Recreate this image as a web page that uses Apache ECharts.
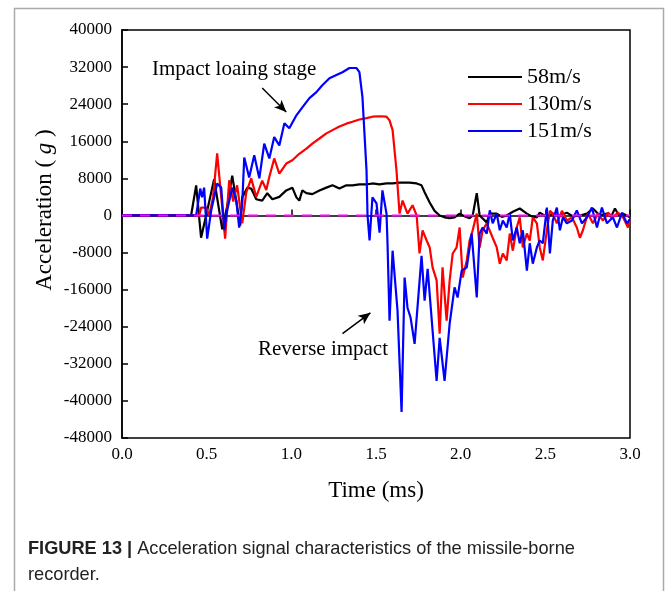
<!DOCTYPE html>
<html>
<head>
<meta charset="utf-8">
<script src="https://cdn.jsdelivr.net/npm/echarts@6/dist/echarts.min.js"></script>
<style>
  html, body { margin: 0; padding: 0; background: #fff; }
  #main { width: 665px; height: 591px; }
</style>
</head>
<body>
<div id="main"></div>
<script>
// time (ms) / acceleration (g)
var t58 = [0, 0.408, 0.438, 0.467, 0.503, 0.544, 0.592, 0.621, 0.651, 0.698, 0.710, 0.740, 0.763, 0.793, 0.828, 0.858, 0.888, 0.929, 0.970, 1.006, 1.030, 1.047, 1.065, 1.089, 1.124, 1.166, 1.207, 1.243, 1.284, 1.325, 1.361, 1.402, 1.444, 1.479, 1.521, 1.562, 1.598, 1.639, 1.698, 1.740, 1.769, 1.787, 1.817, 1.846, 1.876, 1.905, 1.935, 1.964, 1.994, 2.024, 2.053, 2.071, 2.095, 2.112, 2.154, 2.172, 2.213, 2.243, 2.272, 2.308, 2.349, 2.391, 2.420, 2.450, 2.467, 2.509, 2.544, 2.586, 2.627, 2.663, 2.704, 2.746, 2.781, 2.822, 2.864, 2.888, 2.911, 2.935, 2.959, 3.0];
var a58 = [0, 0, 6500, -4800, 1000, 7800, -3000, 2000, 8600, -2200, 3900, 6000, 5800, 3500, 3200, 4800, 3500, 4000, 5400, 6000, 3900, 3200, 5400, 4800, 4600, 5400, 6000, 6500, 5800, 6500, 6500, 6700, 6700, 6900, 6700, 6900, 6900, 7100, 7100, 6900, 6500, 5000, 2800, 1000, 0, -400, -600, -400, 400, -200, -600, 0, 4800, 0, -1500, 400, 400, -300, 0, 800, 1500, 400, -200, -400, 600, -300, 400, 0, 600, -200, 0, 400, 1500, 0, 400, -300, 1500, 0, 400, -400];

var t130 = [0, 0.456, 0.467, 0.497, 0.515, 0.538, 0.562, 0.586, 0.609, 0.633, 0.657, 0.680, 0.710, 0.734, 0.763, 0.793, 0.828, 0.852, 0.870, 0.899, 0.929, 0.970, 1.006, 1.047, 1.089, 1.124, 1.166, 1.207, 1.243, 1.284, 1.325, 1.361, 1.402, 1.444, 1.479, 1.521, 1.562, 1.580, 1.598, 1.621, 1.639, 1.657, 1.686, 1.716, 1.740, 1.757, 1.775, 1.799, 1.817, 1.834, 1.858, 1.876, 1.893, 1.917, 1.935, 1.953, 1.976, 1.994, 2.012, 2.036, 2.053, 2.071, 2.095, 2.112, 2.130, 2.154, 2.189, 2.213, 2.231, 2.249, 2.272, 2.290, 2.308, 2.331, 2.349, 2.367, 2.391, 2.408, 2.426, 2.450, 2.467, 2.485, 2.509, 2.527, 2.544, 2.568, 2.598, 2.627, 2.657, 2.686, 2.704, 2.722, 2.751, 2.781, 2.811, 2.840, 2.870, 2.899, 2.929, 2.959, 2.988, 3.0];
var a130 = [0, 0, 1700, 1700, 0, 4000, 13400, 4000, -5000, 7600, 3000, 6500, -1700, 5000, 8000, 4000, 7500, 5500, 8300, 12300, 9000, 11200, 11900, 13300, 14400, 15500, 16600, 17700, 18400, 19200, 19800, 20200, 20700, 21000, 21300, 21400, 21300, 20500, 18400, 9700, 400, 3200, 400, 2200, 0, -8200, -3200, -5400, -6900, -11200, -14000, -25500, -11200, -22700, -14000, -8200, -6900, -2600, -13400, -9700, -5400, -3200, 400, -6900, -3200, -1700, -4800, -6900, -10400, -8200, -9700, -3900, -7600, -2600, -400, -6900, -3900, -5400, -400, -1700, -6900, -9700, -3200, 1000, 400, -1700, 1000, -1100, -400, -2600, -4800, -3200, 400, -1700, 400, -1100, 600, -400, 600, -400, -2600, -800];

var t151 = [0, 0.408, 0.438, 0.462, 0.473, 0.485, 0.503, 0.527, 0.562, 0.586, 0.604, 0.621, 0.651, 0.675, 0.692, 0.710, 0.722, 0.751, 0.781, 0.811, 0.840, 0.870, 0.899, 0.929, 0.959, 0.988, 1.030, 1.065, 1.107, 1.148, 1.183, 1.225, 1.266, 1.302, 1.343, 1.385, 1.402, 1.420, 1.444, 1.450, 1.462, 1.479, 1.503, 1.521, 1.538, 1.562, 1.568, 1.580, 1.598, 1.627, 1.651, 1.669, 1.686, 1.704, 1.728, 1.769, 1.787, 1.805, 1.858, 1.876, 1.905, 1.935, 1.964, 1.982, 2.006, 2.036, 2.065, 2.095, 2.112, 2.130, 2.154, 2.172, 2.189, 2.213, 2.231, 2.249, 2.272, 2.290, 2.308, 2.331, 2.349, 2.367, 2.391, 2.408, 2.426, 2.450, 2.467, 2.485, 2.509, 2.527, 2.544, 2.568, 2.586, 2.604, 2.627, 2.657, 2.686, 2.716, 2.746, 2.775, 2.805, 2.834, 2.864, 2.899, 2.923, 2.953, 2.982, 3.0];
var a151 = [0, 0, 0, 5800, 3900, 6000, -5000, 1100, 6900, 6000, -3200, 1100, 6000, 3200, -2600, 2600, 12500, 8200, 13000, 8000, 15500, 12300, 16900, 15100, 19900, 18800, 21600, 23300, 25300, 26600, 28100, 29600, 30300, 30900, 31800, 31800, 30900, 25500, 9700, 0, -5400, 3900, 2600, -3700, 5400, 400, -6000, -22700, -7600, -20500, -42400, -13400, -19900, -22000, -27700, -8700, -18400, -11500, -35700, -26400, -35700, -23300, -15500, -17700, -11900, -11200, -3900, -17700, -3900, -2600, -3900, 1100, -1700, 400, -3200, -1100, -2600, 400, -5400, -2600, -6000, -3200, -11900, -6000, -10400, -6900, -5400, -6000, 1700, -8200, -1100, 1700, -3200, -400, -1700, -1100, 1100, -1700, -400, 1700, -2600, 1700, -1700, -400, -2600, 600, -1700, -800];

var names = ['58m/s', '130m/s', '151m/s'];
var colors = ['#000000', '#ff0000', '#0000ff'];
var yTicks = [-48000, 40000, 8000];   // min, max, step
var xTicks = [0, 3, 0.5];

function pairs(t, a) {
  return t.map(function (x, i) { return [x, a[i]]; });
}

var serif = 'Liberation Serif';
var chart = echarts.init(document.getElementById('main'), null, {renderer: 'canvas'});

var lines = [pairs(t58, a58), pairs(t130, a130), pairs(t151, a151)].map(function (d, i) {
  return {
    name: names[i],
    type: 'line',
    data: d,
    symbol: 'none',
    z: 2 + i,
    lineStyle: {color: colors[i], width: 2.2},
    itemStyle: {color: colors[i]}
  };
});

lines.push({
  name: 'zero',
  type: 'line',
  data: [[xTicks[0], 0], [xTicks[1], 0]],
  symbol: 'none',
  z: 6,
  lineStyle: {color: '#ff00ff', width: 2, type: [10, 8]},
  markLine: {
    silent: true,
    symbol: ['none', 'arrow'],
    symbolSize: [8, 12],
    label: {show: false},
    lineStyle: {color: '#000', width: 1.5, type: 'solid'},
    data: [
      [{coord: [0.828, 27500]}, {coord: [0.970, 22300]}],
      [{coord: [1.302, -25500]}, {coord: [1.467, -21000]}]
    ]
  }
});

option = {
  animation: false,
  backgroundColor: '#fff',
  grid: {left: 122, right: 35, top: 30, bottom: 153, show: true, borderColor: '#000', borderWidth: 1.5},
  legend: {
    data: names,
    orient: 'vertical',
    left: 463,
    top: 61,
    icon: 'rect',
    itemWidth: 54,
    itemHeight: 2.2,
    itemGap: 5,
    textStyle: {fontFamily: serif, fontSize: 22, color: '#000'}
  },
  xAxis: {
    type: 'value',
    min: xTicks[0], max: xTicks[1], interval: xTicks[2],
    name: 'Time (ms)',
    nameLocation: 'middle',
    nameGap: 41,
    nameTextStyle: {fontFamily: serif, fontSize: 23, color: '#000'},
    axisLine: {lineStyle: {color: '#000', width: 1.5}},
    axisTick: {inside: true, length: 6, lineStyle: {color: '#000', width: 1.5}},
    axisLabel: {fontFamily: serif, fontSize: 17, color: '#000', margin: 8,
      formatter: function (v) { return v.toFixed(1); }},
    splitLine: {show: false}
  },
  yAxis: {
    type: 'value',
    min: yTicks[0], max: yTicks[1], interval: yTicks[2],
    name: 'Acceleration ( {g|g} )',
    nameLocation: 'middle',
    nameGap: 66,
    nameRotate: 90,
    nameMoveOverlap: false,
    nameTextStyle: {fontFamily: serif, fontSize: 23, color: '#000', padding: [0, 0, 0, 48],
      rich: {g: {fontFamily: serif, fontSize: 23, fontStyle: 'italic', color: '#000'}}},
    axisLine: {lineStyle: {color: '#000', width: 1.5}},
    axisTick: {inside: true, length: 6, lineStyle: {color: '#000', width: 1.5}},
    axisLabel: {fontFamily: serif, fontSize: 17, color: '#000', margin: 10,
      formatter: function (v) { return String(v); }},
    splitLine: {show: false}
  },
  graphic: [
    {type: 'rect', left: 12, top: 6, silent: true, z: 0,
      shape: {width: 649, height: 600}, style: {fill: null, stroke: '#aaaaaa', lineWidth: 1.5}},
    {type: 'text', left: 152, top: 59, style: {text: 'Impact loaing stage', font: '21px "Liberation Serif"', fill: '#000'}},
    {type: 'text', left: 258, top: 339, style: {text: 'Reverse impact', font: '21px "Liberation Serif"', fill: '#000'}},
    {type: 'text', left: 28, top: 536, style: {
      text: '{b|FIGURE 13 |} Acceleration signal characteristics of the missile-borne\nrecorder.',
      font: '18.2px "Liberation Sans"', fill: '#222', lineHeight: 26,
      rich: {b: {font: 'bold 18.2px "Liberation Sans"', fill: '#222'}}}}
  ],
  series: lines
};

chart.setOption(option);
</script>
</body>
</html>
